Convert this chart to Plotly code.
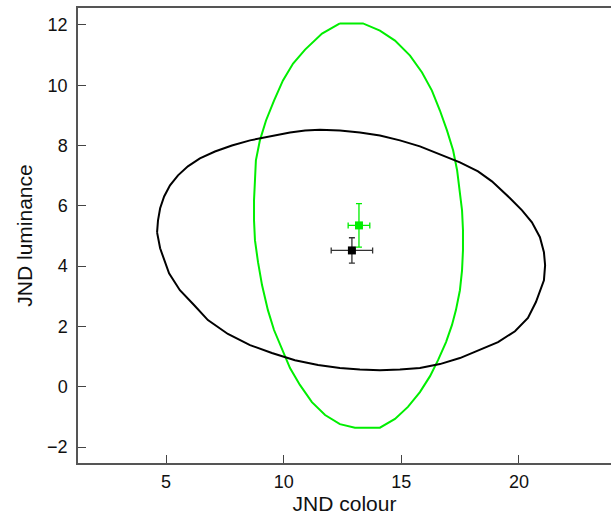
import plotly.graph_objects as go

# Ellipse outlines: JND colour (x), JND luminance (y)
black_ell_x = [4.62, 4.66, 4.75, 4.92, 5.17, 5.51, 5.93, 6.44, 7.08, 7.80, 8.57, 9.42, 10.27,
               10.91, 11.54, 12.39, 13.24, 14.09, 14.94, 15.79, 16.64, 17.49, 18.26, 18.85,
               19.62, 20.13, 20.55, 20.89, 21.06, 21.11, 21.06, 20.72, 20.38, 19.83, 19.11,
               18.34, 17.49, 16.64, 15.79, 14.94, 14.09, 13.24, 12.39, 11.46, 10.48, 9.50,
               8.57, 7.63, 6.78, 6.19, 5.59, 5.13, 5.00, 4.75, 4.62]
black_ell_y = [5.12, 5.52, 5.92, 6.31, 6.68, 7.01, 7.31, 7.57, 7.80, 8.00, 8.17, 8.30, 8.43,
               8.50, 8.52, 8.50, 8.43, 8.33, 8.17, 7.97, 7.71, 7.44, 7.14, 6.81,
               6.25, 5.85, 5.45, 4.96, 4.46, 4.03, 3.53, 2.81, 2.28, 1.84, 1.48,
               1.22, 0.95, 0.75, 0.62, 0.57, 0.55, 0.57, 0.62, 0.72, 0.88, 1.12,
               1.38, 1.75, 2.21, 2.71, 3.20, 3.76, 4.03, 4.59, 5.12]

green_ell_x = [12.39, 13.37, 14.09, 14.73, 15.37, 15.88, 16.30, 16.64, 16.94, 17.20, 17.37,
               17.49, 17.58, 17.62, 17.62, 17.58, 17.49, 17.32, 17.15, 16.90, 16.56, 16.22,
               15.79, 15.28, 14.73, 14.09, 13.03, 12.39, 11.76, 11.20, 10.69, 10.27, 9.93,
               9.59, 9.33, 9.08, 8.91, 8.78, 8.74, 8.74, 8.78, 8.82, 8.99, 9.25, 9.59,
               9.97, 10.40, 10.91, 11.63, 12.39]
green_ell_y = [12.05, 12.05, 11.81, 11.48, 10.98, 10.42, 9.82, 9.16, 8.50, 7.84, 7.18,
               6.51, 5.85, 5.19, 4.53, 3.86, 3.20, 2.54, 2.04, 1.48, 0.88, 0.35,
               -0.18, -0.67, -1.07, -1.36, -1.36, -1.24, -0.94, -0.51, 0.06, 0.62, 1.22,
               1.88, 2.54, 3.37, 4.13, 4.86, 5.52, 6.18, 6.84, 7.51, 8.17, 8.83, 9.49,
               10.16, 10.72, 11.18, 11.71, 12.05]

# Means with error bars
black_mean_x = [12.9]
black_mean_y = [4.52]
black_err_x = [0.88]
black_err_y = [0.42]

green_mean_x = [13.2]
green_mean_y = [5.35]
green_err_x = [0.46]
green_err_y = [0.72]

x_ticks = [5, 10, 15, 20]
y_ticks = [-2, 0, 2, 4, 6, 8, 10, 12]

GREEN = "#00ee00"
BLACK = "#000000"

fig = go.Figure()
fig.add_trace(go.Scatter(x=green_ell_x, y=green_ell_y, mode="lines",
                         line=dict(color=GREEN, width=2), showlegend=False))
fig.add_trace(go.Scatter(x=black_ell_x, y=black_ell_y, mode="lines",
                         line=dict(color=BLACK, width=2), showlegend=False))
fig.add_trace(go.Scatter(x=black_mean_x, y=black_mean_y, mode="markers",
                         marker=dict(symbol="square", size=8, color=BLACK),
                         error_x=dict(type="data", array=black_err_x, color="#333333", thickness=1.3, width=3),
                         error_y=dict(type="data", array=black_err_y, color="#333333", thickness=1.3, width=3),
                         showlegend=False))
fig.add_trace(go.Scatter(x=green_mean_x, y=green_mean_y, mode="markers",
                         marker=dict(symbol="square", size=8, color=GREEN),
                         error_x=dict(type="data", array=green_err_x, color=GREEN, thickness=1.3, width=3),
                         error_y=dict(type="data", array=green_err_y, color=GREEN, thickness=1.3, width=3),
                         showlegend=False))

axis_font = dict(family="Liberation Sans, Arial, sans-serif", size=18, color="#111111")
fig.update_layout(
    width=611, height=521,
    margin=dict(l=78, r=0, t=8, b=58),
    paper_bgcolor="white", plot_bgcolor="white",
    font=axis_font,
    xaxis=dict(range=[1.26, 23.91], tickvals=x_ticks, ticks="inside", ticklen=8,
               tickcolor="#444444", tickwidth=1, showgrid=False, zeroline=False,
               showline=True, linecolor="#555555", linewidth=1.5, mirror=True,
               tickfont=dict(size=18), ticklabelstandoff=2,
               title=dict(text="JND colour", font=dict(size=21), standoff=2)),
    yaxis=dict(range=[-2.53, 12.56], tickvals=y_ticks, ticks="inside", ticklen=8,
               tickcolor="#444444", tickwidth=1, showgrid=False, zeroline=False,
               showline=True, linecolor="#555555", linewidth=1.5,
               tickfont=dict(size=18), ticklabelstandoff=5,
               title=dict(text="JND luminance", font=dict(size=21), standoff=9)),
)

fig.write_html("out.html")
